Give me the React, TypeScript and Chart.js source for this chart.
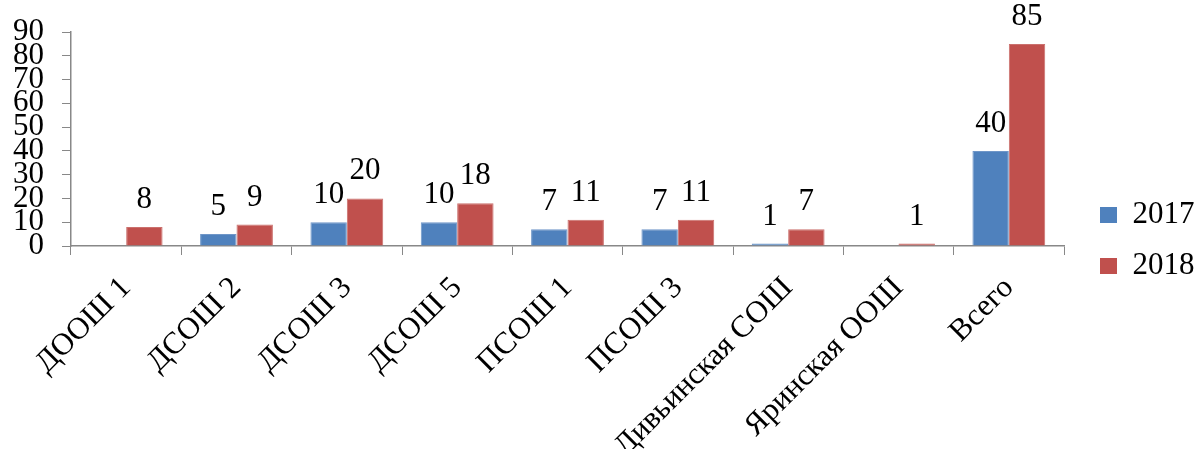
import React, { useEffect, useRef } from "react";
import { Chart, registerables } from "chart.js";

Chart.register(...registerables);

const categories = [
  "ДООШ 1",
  "ДСОШ 2",
  "ДСОШ 3",
  "ДСОШ 5",
  "ПСОШ 1",
  "ПСОШ 3",
  "Дивьинская СОШ",
  "Яринская ООШ",
  "Всего",
];
const values2017 = [0, 5, 10, 10, 7, 7, 1, 0, 40];
const values2018 = [8, 9, 20, 18, 11, 11, 7, 1, 85];
const seriesNames = ["2017", "2018"];
const yTicks = [0, 10, 20, 30, 40, 50, 60, 70, 80, 90];

const FONT = "Liberation Serif";
const FS = 31;

const valueLabels = {
  id: "valueLabels",
  afterDatasetsDraw(chart: any) {
    const ctx = chart.ctx;
    ctx.save();
    ctx.font = `${FS}px "${FONT}"`;
    ctx.fillStyle = "#000";
    ctx.textAlign = "center";
    ctx.textBaseline = "alphabetic";
    chart.data.datasets.forEach((ds: any, i: number) => {
      const meta = chart.getDatasetMeta(i);
      meta.data.forEach((el: any, j: number) => {
        const v = ds.data[j];
        if (!v) return;
        ctx.fillText(String(v), el.x, el.y - 19);
      });
    });
    ctx.restore();
  },
};

export default function App() {
  const ref = useRef<HTMLCanvasElement>(null);
  useEffect(() => {
    if (!ref.current) return;
    let chart: any = null;
    let cancelled = false;
    const build = () => {
      if (cancelled || !ref.current) return;
      chart = new Chart(ref.current, {
        type: "bar",
        data: {
          labels: categories,
          datasets: [
            {
              label: seriesNames[0],
              data: values2017,
              backgroundColor: "#4F81BD",
              borderColor: "#6F96C8",
              borderWidth: 1,
              categoryPercentage: 0.66,
              barPercentage: 1,
            },
            {
              label: seriesNames[1],
              data: values2018,
              backgroundColor: "#C0504D",
              borderColor: "#CB706D",
              borderWidth: 1,
              categoryPercentage: 0.66,
              barPercentage: 1,
            },
          ],
        },
        plugins: [valueLabels],
        options: {
          responsive: false,
          animation: false,
          layout: { padding: { top: 32, bottom: 10, left: 0, right: -8.5 } },
          plugins: {
            legend: {
              position: "right",
              align: "center",
              labels: {
                boxWidth: 17,
                boxHeight: 16,
                padding: 20,
                color: "#000",
                useBorderRadius: false,
                font: { family: FONT, size: FS },
                generateLabels(chart: any) {
                  return chart.data.datasets.map((ds: any, i: number) => ({
                    text: ds.label,
                    fillStyle: ds.backgroundColor,
                    strokeStyle: ds.backgroundColor,
                    lineWidth: 0,
                    hidden: false,
                    datasetIndex: i,
                    fontColor: "#000",
                  }));
                },
              },
            },
            tooltip: { enabled: false },
          },
          scales: {
            x: {
              grid: {
                display: true,
                drawOnChartArea: false,
                drawTicks: true,
                tickLength: 9,
                color: "#888888",
                offset: true,
              },
              border: { display: true, color: "#888888", width: 1.5 },
              ticks: {
                color: "#000",
                font: { family: FONT, size: FS },
                maxRotation: 45,
                minRotation: 45,
                autoSkip: false,
                padding: 15,
              },
              afterFit(scale: any) {
                scale.height = 203;
              },
            },
            y: {
              min: 0,
              max: 90,
              afterBuildTicks(scale: any) {
                scale.ticks = yTicks.map((v) => ({ value: v }));
              },
              grid: {
                display: true,
                drawOnChartArea: false,
                drawTicks: true,
                tickLength: 9,
                color: "#888888",
              },
              border: { display: true, color: "#888888", width: 1.5 },
              ticks: {
                color: "#000",
                font: { family: FONT, size: FS, lineHeight: 0.8 },
                autoSkip: false,
                padding: 18,
              },
              afterFit(scale: any) {
                scale.width = 71;
              },
            },
            gap: {
              type: "linear",
              position: "right",
              display: true,
              grid: { display: false, drawTicks: false },
              border: { display: false },
              ticks: { display: false },
              afterFit(scale: any) {
                scale.width = 16;
              },
            },
          },
        },
      } as any);
    };
    const fonts: any = (document as any).fonts;
    if (fonts && fonts.load) {
      fonts.load(`${FS}px "${FONT}"`, "ДОШ0123456789").then(build, build);
    } else {
      build();
    }
    return () => {
      cancelled = true;
      if (chart) chart.destroy();
    };
  }, []);
  return (
    <div style={{ position: "fixed", left: 0, top: 0, width: 1196, height: 459, background: "#fff" }}>
      <canvas ref={ref} width={1196} height={459} style={{ width: 1196, height: 459 }} />
    </div>
  );
}
